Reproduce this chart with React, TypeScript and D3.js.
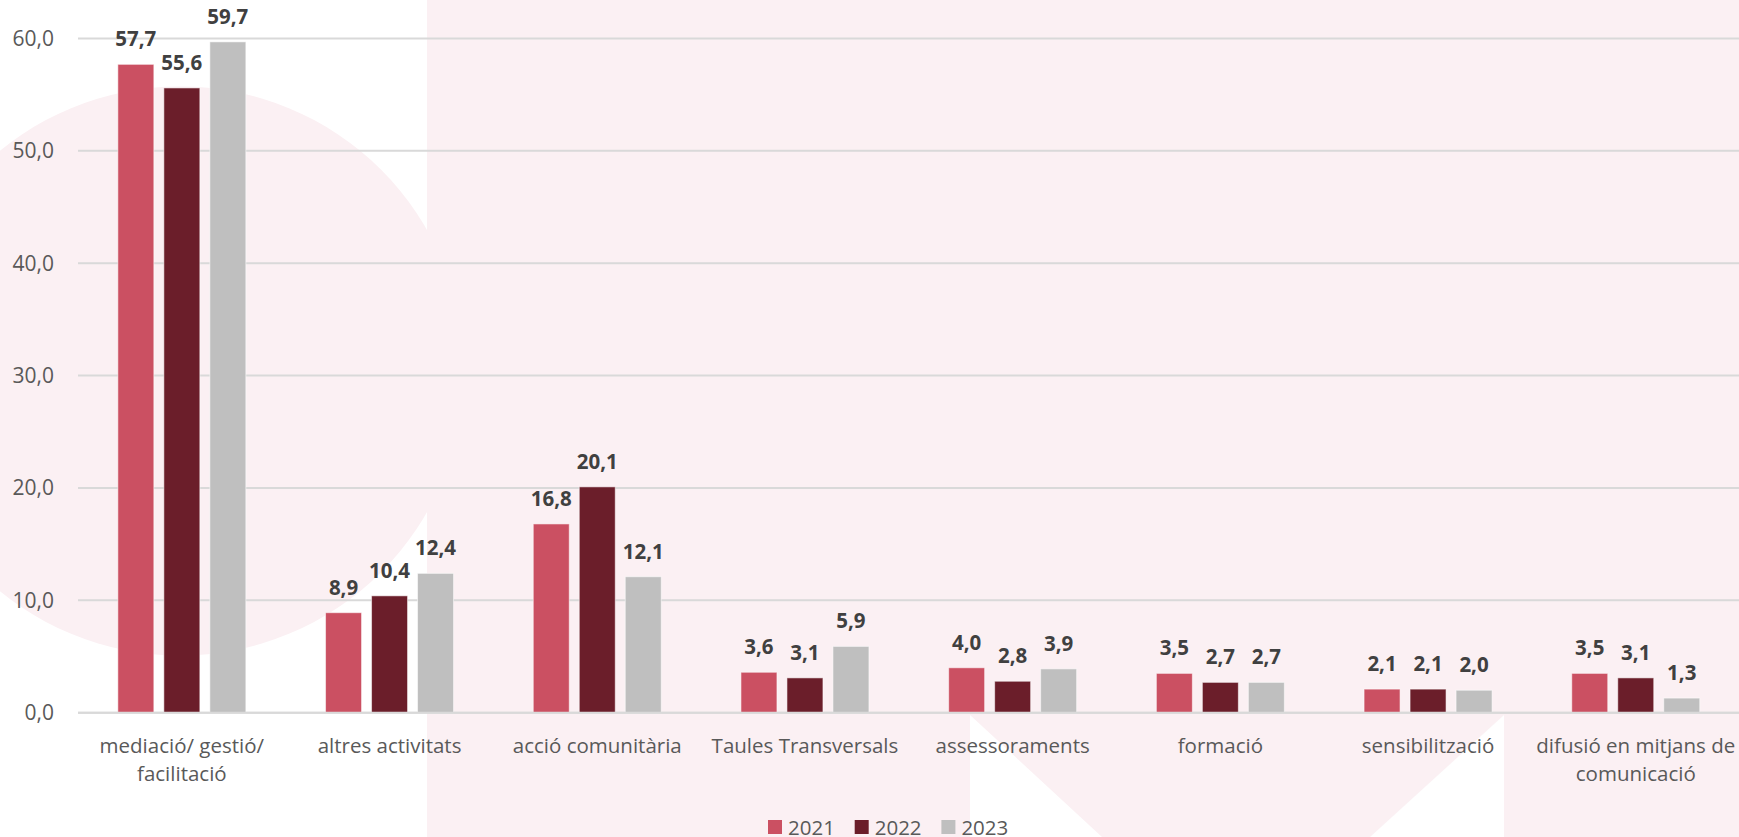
import React from "react";
import * as d3 from "d3";

const categories = [
  "mediació/ gestió/ facilitació",
  "altres activitats",
  "acció comunitària",
  "Taules Transversals",
  "assessoraments",
  "formació",
  "sensibilització",
  "difusió en mitjans de comunicació",
];
const years = ["2021", "2022", "2023"];
const values2021 = [57.7, 8.9, 16.8, 3.6, 4.0, 3.5, 2.1, 3.5];
const values2022 = [55.6, 10.4, 20.1, 3.1, 2.8, 2.7, 2.1, 3.1];
const values2023 = [59.7, 12.4, 12.1, 5.9, 3.9, 2.7, 2.0, 1.3];
const yTicks = [0, 10, 20, 30, 40, 50, 60];

const seriesValues = [values2021, values2022, values2023];
const colors = ["#CB5062", "#6B1E2A", "#BFBFBF"];

const W = 1739;
const H = 837;
const FONT = "'Open Sans', sans-serif";
const fmt = (v: number) => d3.format(".1f")(v).replace(".", ",");

function wrapText(text: string, maxWidth: number, font: string): string[] {
  const canvas = document.createElement("canvas");
  const ctx = canvas.getContext("2d");
  if (!ctx) return [text];
  ctx.font = font;
  const words = text.split(" ");
  const lines: string[] = [];
  let cur = "";
  for (const w of words) {
    const test = cur ? cur + " " + w : w;
    if (ctx.measureText(test).width > maxWidth && cur) {
      lines.push(cur);
      cur = w;
    } else {
      cur = test;
    }
  }
  if (cur) lines.push(cur);
  return lines;
}

export default function App() {
  const x0 = d3.scaleBand<string>().domain(categories).range([78, 1739.6]).padding(0);
  const groupW = 128;
  const x1 = d3.scaleBand<string>().domain(years).range([0, groupW]).paddingInner(10 / 46).paddingOuter(0);
  const y = d3.scaleLinear().domain([0, 60]).range([712.7, 38.5]);
  const plotLeft = 78;
  const plotRight = W;

  const labelFont = `20.5px ${FONT}`;

  return (
    <svg
      width={W}
      height={H}
      style={{ position: "absolute", left: 0, top: 0, display: "block" }}
      fontFamily={FONT}
    >
      {/* background decoration */}
      <rect x={0} y={0} width={W} height={H} fill="#ffffff" />
      <circle cx={180} cy={371} r={284.5} fill="#FBF0F3" />
      <rect x={427} y={0} width={W - 427} height={H} fill="#FBF0F3" />
      <polygon points="970,715 1102,837 970,837" fill="#ffffff" />
      <polygon points="1504,715 1504,837 1370,837" fill="#ffffff" />

      {/* gridlines */}
      {yTicks.map((t) => (
        <line
          key={"g" + t}
          x1={plotLeft}
          x2={plotRight}
          y1={y(t)}
          y2={y(t)}
          stroke="#D9D9D9"
          strokeWidth={2}
        />
      ))}
      {/* y tick labels */}
      {yTicks.map((t) => (
        <text
          key={"t" + t}
          x={54}
          y={y(t)}
          dy="0.35em"
          textAnchor="end"
          fontSize={21}
          fill="#595959"
        >
          {fmt(t)}
        </text>
      ))}

      {/* bars */}
      {categories.map((c, i) => {
        const gx = (x0(c) as number) + x0.bandwidth() / 2 - groupW / 2;
        return (
          <g key={"c" + i}>
            {years.map((yr, s) => {
              const v = seriesValues[s][i];
              const bx = gx + (x1(yr) as number);
              const by = y(v);
              return (
                <g key={yr}>
                  <rect
                    x={bx}
                    y={by}
                    width={x1.bandwidth()}
                    height={y(0) - by}
                    fill={colors[s]}
                    stroke="rgba(255,255,255,0.55)"
                    strokeWidth={1}
                  />
                  <text
                    x={bx + x1.bandwidth() / 2}
                    y={by - 18}
                    textAnchor="middle"
                    fontSize={20.5}
                    fontWeight="bold"
                    fill="#404040"
                  >
                    {fmt(v)}
                  </text>
                </g>
              );
            })}
          </g>
        );
      })}

      {/* x-axis line */}
      <line x1={plotLeft} x2={plotRight} y1={y(0)} y2={y(0)} stroke="#D9D9D9" strokeWidth={2} />

      {/* category labels */}
      {categories.map((c, i) => {
        const cx = (x0(c) as number) + x0.bandwidth() / 2;
        const lines = wrapText(c, 212, labelFont);
        return (
          <text key={"l" + i} x={cx} y={753.3} textAnchor="middle" fontSize={20.5} fill="#595959">
            {lines.map((ln, k) => (
              <tspan key={k} x={cx} dy={k === 0 ? 0 : 28}>
                {ln}
              </tspan>
            ))}
          </text>
        );
      })}

      {/* legend */}
      {years.map((yr, s) => {
        const lx = 768 + s * 86.7;
        return (
          <g key={"lg" + yr}>
            <rect x={lx} y={820} width={14} height={14} fill={colors[s]} />
            <text x={lx + 20} y={834.5} fontSize={20.5} fill="#595959">
              {yr}
            </text>
          </g>
        );
      })}
    </svg>
  );
}
